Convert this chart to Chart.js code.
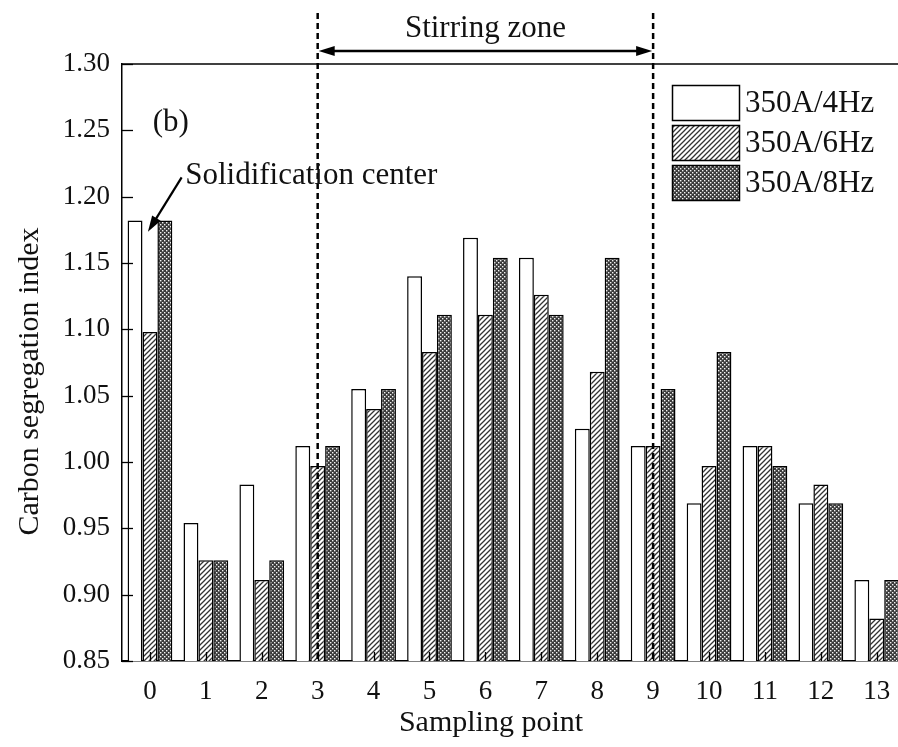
<!DOCTYPE html>
<html>
<head>
<meta charset="utf-8">
<script src="https://cdn.jsdelivr.net/npm/chart.js@4.4.0/dist/chart.umd.min.js"></script>
<style>
  html, body { margin: 0; padding: 0; background: #fff; }
</style>
</head>
<body>
<canvas id="segChart" width="898" height="747"></canvas>
<script>
// data
const samplingPoints = [0, 1, 2, 3, 4, 5, 6, 7, 8, 9, 10, 11, 12, 13];
const index4Hz = [1.182, 0.954, 0.983, 1.012, 1.055, 1.140, 1.169, 1.154, 1.025, 1.012, 0.969, 1.012, 0.969, 0.911];
const index6Hz = [1.098, 0.926, 0.911, 0.997, 1.040, 1.083, 1.111, 1.126, 1.068, 1.012, 0.997, 1.012, 0.983, 0.882];
const index8Hz = [1.182, 0.926, 0.926, 1.012, 1.055, 1.111, 1.154, 1.111, 1.154, 1.055, 1.083, 0.997, 0.969, 0.911];
const seriesNames = ['350A/4Hz', '350A/6Hz', '350A/8Hz'];
const yMin = 0.85, yMax = 1.30, yStep = 0.05;
const stirringZone = [3, 9];

const FONT = 'Liberation Serif, Times New Roman, serif';
const INK = '#111';

// fill patterns
function makePattern(size, draw) {
    const c = document.createElement('canvas');
    c.width = size; c.height = size;
    const g = c.getContext('2d');
    draw(g, size);
    return g.createPattern(c, 'repeat');
}

const hatchFill = makePattern(5, (g, s) => {
    g.fillStyle = '#fff';
    g.fillRect(0, 0, s, s);
    g.strokeStyle = '#333';
    g.lineWidth = 1.3;
    g.beginPath();
    g.moveTo(-1, s + 1); g.lineTo(s + 1, -1);
    g.moveTo(-1, 1); g.lineTo(1, -1);
    g.moveTo(s - 1, s + 1); g.lineTo(s + 1, s - 1);
    g.stroke();
});

const crossFill = makePattern(4, (g, s) => {
    g.fillStyle = '#3a3a3a';
    g.fillRect(0, 0, s, s);
    g.fillStyle = '#f4f4f4';
    g.fillRect(0, 0, 1.4, 1.4);
    g.fillRect(2, 2, 1.4, 1.4);
});

const fills = ['#ffffff', hatchFill, crossFill];
const seriesValues = [index4Hz, index6Hz, index8Hz];

function arrowHead(ctx, fx, fy, tx, ty, len, half) {
    const a = Math.atan2(ty - fy, tx - fx);
    ctx.beginPath();
    ctx.moveTo(tx, ty);
    ctx.lineTo(tx - len * Math.cos(a) + half * Math.sin(a), ty - len * Math.sin(a) - half * Math.cos(a));
    ctx.lineTo(tx - len * Math.cos(a) - half * Math.sin(a), ty - len * Math.sin(a) + half * Math.cos(a));
    ctx.closePath();
    ctx.fill();
}

const decorations = {
    id: 'decorations',
    afterDatasetsDraw(chart) {
        const { ctx, chartArea: area, scales: { x, y } } = chart;
        ctx.save();
        ctx.strokeStyle = '#000';
        ctx.fillStyle = '#000';

        // top frame line
        ctx.lineWidth = 1.5;
        ctx.beginPath();
        ctx.moveTo(area.left, area.top);
        ctx.lineTo(area.right, area.top);
        ctx.stroke();

        // inward ticks
        ctx.lineWidth = 1.3;
        y.ticks.forEach(t => {
            const py = Math.round(y.getPixelForValue(t.value)) + 0.5;
            ctx.beginPath();
            ctx.moveTo(area.left, py);
            ctx.lineTo(area.left + 11, py);
            ctx.stroke();
        });
        samplingPoints.forEach(v => {
            const px = Math.round(x.getPixelForValue(v)) + 0.5;
            ctx.beginPath();
            ctx.moveTo(px, area.bottom);
            ctx.lineTo(px, area.bottom - 9);
            ctx.stroke();
        });

        // stirring zone
        const zx0 = x.getPixelForValue(stirringZone[0]);
        const zx1 = x.getPixelForValue(stirringZone[1]);
        ctx.lineWidth = 2.5;
        ctx.setLineDash([6, 4]);
        [zx0, zx1].forEach(px => {
            ctx.beginPath();
            ctx.moveTo(px, area.top - 51);
            ctx.lineTo(px, area.bottom);
            ctx.stroke();
        });
        ctx.setLineDash([]);
        const ay = area.top - 13;
        ctx.lineWidth = 2.5;
        ctx.beginPath();
        ctx.moveTo(zx0 + 8, ay);
        ctx.lineTo(zx1 - 8, ay);
        ctx.stroke();
        arrowHead(ctx, zx1, ay, zx0 + 1, ay, 16, 5);
        arrowHead(ctx, zx0, ay, zx1 - 1, ay, 16, 5);

        ctx.fillStyle = INK;
        ctx.font = '31px ' + FONT;
        ctx.textAlign = 'center';
        ctx.textBaseline = 'middle';
        ctx.fillText('Stirring zone', (zx0 + zx1) / 2, area.top - 35);

        // panel label and solidification centre callout
        ctx.textAlign = 'left';
        ctx.fillText('(b)', x.getPixelForValue(0.05), y.getPixelForValue(1.2555));
        ctx.fillText('Solidification center', x.getPixelForValue(0.63), y.getPixelForValue(1.216));
        const sx = x.getPixelForValue(0.567), sy = y.getPixelForValue(1.2145);
        const ex = x.getPixelForValue(-0.036), ey = y.getPixelForValue(1.1736);
        ctx.fillStyle = '#000';
        ctx.lineWidth = 2.2;
        ctx.beginPath();
        ctx.moveTo(sx, sy);
        ctx.lineTo(ex + (sx - ex) * 0.2, ey + (sy - ey) * 0.2);
        ctx.stroke();
        arrowHead(ctx, sx, sy, ex, ey, 16, 5);

        // legend
        const lx = area.left + 550, ly = area.top + 21, bw = 67, bh = 35, gap = 5;
        seriesNames.forEach((name, i) => {
            const top = ly + i * (bh + gap);
            ctx.fillStyle = fills[i];
            ctx.fillRect(lx, top, bw, bh);
            ctx.lineWidth = 1.5;
            ctx.strokeStyle = '#000';
            ctx.strokeRect(lx + 0.5, top + 0.5, bw, bh);
            ctx.fillStyle = INK;
            ctx.font = '31px ' + FONT;
            ctx.textAlign = 'left';
            ctx.textBaseline = 'middle';
            ctx.fillText(name, lx + bw + 6, top + bh / 2 + 1);
        });

        // axis titles
        ctx.font = '30px ' + FONT;
        ctx.textAlign = 'center';
        ctx.textBaseline = 'middle';
        ctx.fillText('Sampling point', x.getPixelForValue(6.1), area.bottom + 62);
        ctx.translate(30, (area.top + area.bottom) / 2 + 19);
        ctx.rotate(-Math.PI / 2);
        ctx.fillText('Carbon segregation index', 0, 0);
        ctx.restore();
    }
};

const ctx = document.getElementById('segChart').getContext('2d');

const segChart = new Chart(ctx, {
    type: 'bar',
    data: {
        datasets: seriesNames.map((name, i) => ({
            label: name,
            data: samplingPoints.map((p, j) => ({ x: p, y: seriesValues[i][j] })),
            backgroundColor: fills[i],
            borderColor: '#000',
            borderWidth: 1.5,
            categoryPercentage: 0.8,
            barPercentage: 1.0
        }))
    },
    options: {
        responsive: false,
        animation: false,
        devicePixelRatio: 1,
        layout: { padding: { top: 64, right: 0, bottom: 0, left: 0 } },
        plugins: {
            legend: { display: false },
            tooltip: { enabled: false }
        },
        scales: {
            x: {
                type: 'linear',
                offset: false,
                min: -0.5,
                max: 13.38,
                afterBuildTicks: axis => { axis.ticks = samplingPoints.map(v => ({ value: v })); },
                afterFit: axis => {
                    axis.height = 86;
                    axis.paddingLeft = 0;
                    axis.paddingRight = 0;
                },
                grid: { display: false, drawTicks: false, offset: false },
                border: { display: true, color: '#000', width: 1.5 },
                ticks: {
                    autoSkip: false,
                    maxRotation: 0,
                    padding: 15,
                    color: INK,
                    font: { family: FONT, size: 27 },
                    callback: v => String(v)
                }
            },
            y: {
                min: yMin,
                max: yMax,
                afterFit: axis => { axis.width = 122; },
                grid: { display: false, drawTicks: false },
                border: { display: true, color: '#000', width: 1.5 },
                ticks: {
                    stepSize: yStep,
                    padding: 12,
                    color: INK,
                    font: { family: FONT, size: 27 },
                    callback: v => v.toFixed(2)
                }
            }
        }
    },
    plugins: [decorations]
});
</script>
</body>
</html>
